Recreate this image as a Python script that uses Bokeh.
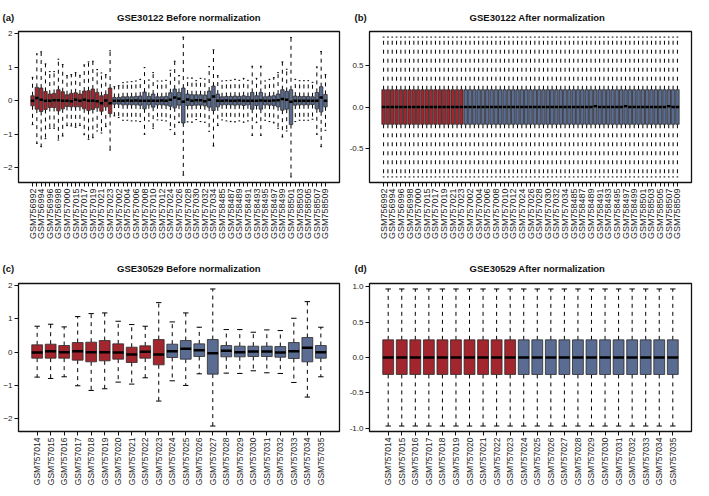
import numpy as np
from bokeh.plotting import figure
from bokeh.models import FixedTicker, Range1d, PrintfTickFormatter, ColumnDataSource
from bokeh.layouts import column, row
from bokeh.embed import file_html
from bokeh.resources import INLINE

RED = "#A3252E"
BLUE = "#5A6C92"
FONT = "Liberation Sans"
NB = "\u00a0"

# ---------------- GSE30122 (69 samples; first 19 = DN group) ----------------
a_samples = [
    "GSM756992", "GSM756993", "GSM756994", "GSM756995", "GSM756996", "GSM756997", "GSM756998",
    "GSM756999", "GSM757000", "GSM757014", "GSM757015", "GSM757016", "GSM757017", "GSM757018",
    "GSM757019", "GSM757020", "GSM757021", "GSM757022", "GSM757023", "GSM757001", "GSM757002",
    "GSM757003", "GSM757004", "GSM757005", "GSM757006", "GSM757007", "GSM757008", "GSM757009",
    "GSM757010", "GSM757011", "GSM757012", "GSM757013", "GSM757024", "GSM757025", "GSM757026",
    "GSM757027", "GSM757028", "GSM757029", "GSM757030", "GSM757031", "GSM757032", "GSM757033",
    "GSM757034", "GSM757035", "GSM758485", "GSM758486", "GSM758487", "GSM758488", "GSM758489",
    "GSM758490", "GSM758491", "GSM758492", "GSM758493", "GSM758494", "GSM758495", "GSM758496",
    "GSM758497", "GSM758498", "GSM758499", "GSM758500", "GSM758501", "GSM758502", "GSM758503",
    "GSM758504", "GSM758505", "GSM758506", "GSM758507", "GSM758508", "GSM758509",
]
a_n_case = 19

a_top = [0.70, 1.40, 1.46, 1.10, 0.87, 0.87, 1.24, 1.08, 0.75,
         0.78, 0.84, 0.76, 1.07, 1.16, 1.18, 0.93, 0.83, 0.78, 1.49,
         0.42, 0.45, 0.54, 0.56, 0.57, 0.59, 0.64, 0.99, 0.62, 0.84, 0.59, 0.59, 0.61,
         0.91, 1.18, 0.75, 1.90, 0.68, 0.68, 0.60, 0.67, 0.65, 1.02, 1.52, 0.75,
         0.59, 0.60, 0.61, 0.64, 0.61, 0.67, 0.61, 1.03, 0.67, 1.03, 0.59, 0.64, 0.69,
         0.84, 1.16, 0.94, 1.89, 0.64, 0.60, 0.60, 0.60, 0.55, 1.01, 1.47, 0.78]
a_q3 = [0.15, 0.40, 0.38, 0.28, 0.20, 0.22, 0.33, 0.27, 0.18,
        0.22, 0.24, 0.20, 0.29, 0.30, 0.35, 0.25, 0.15, 0.19, 0.38,
        0.10, 0.10, 0.12, 0.12, 0.12, 0.13, 0.14, 0.26, 0.13, 0.20, 0.12, 0.12, 0.13,
        0.24, 0.35, 0.25, 0.38, 0.20, 0.18, 0.18, 0.18, 0.17, 0.29, 0.44, 0.20,
        0.12, 0.13, 0.13, 0.14, 0.13, 0.15, 0.13, 0.25, 0.15, 0.25, 0.12, 0.14, 0.15,
        0.20, 0.33, 0.28, 0.33, 0.14, 0.13, 0.13, 0.13, 0.12, 0.25, 0.42, 0.19]
a_med = [0.00, 0.08, 0.03, 0.00, 0.00, 0.02, 0.02, 0.00, 0.00,
         -0.01, 0.03, 0.00, 0.03, 0.00, 0.00, -0.01, -0.07, 0.01, -0.07,
         0.00, 0.00, 0.00, 0.01, 0.00, 0.01, 0.00, 0.00, 0.00, 0.00, 0.00, 0.01, 0.00,
         0.03, 0.10, 0.06, -0.03, 0.04, 0.00, 0.02, 0.02, -0.01, 0.03, 0.13, 0.00,
         0.00, 0.01, 0.00, 0.00, 0.01, 0.00, 0.00, 0.00, 0.00, 0.01, 0.00, 0.00, 0.01,
         0.02, 0.05, 0.03, -0.03, 0.00, 0.00, 0.00, 0.00, 0.00, 0.00, 0.10, 0.00]
a_q1 = [-0.15, -0.25, -0.32, -0.26, -0.20, -0.20, -0.30, -0.24, -0.17,
        -0.18, -0.18, -0.18, -0.24, -0.29, -0.26, -0.21, -0.31, -0.18, -0.38,
        -0.10, -0.10, -0.12, -0.12, -0.12, -0.12, -0.13, -0.24, -0.12, -0.19, -0.12, -0.12, -0.13,
        -0.16, -0.21, -0.13, -0.66, -0.14, -0.14, -0.13, -0.13, -0.15, -0.19, -0.29, -0.18,
        -0.12, -0.12, -0.12, -0.13, -0.12, -0.14, -0.12, -0.25, -0.14, -0.25, -0.12, -0.13, -0.14,
        -0.18, -0.28, -0.25, -0.71, -0.13, -0.12, -0.12, -0.12, -0.11, -0.24, -0.33, -0.18]
a_bot = [-0.71, -1.27, -1.37, -1.13, -0.82, -0.82, -1.17, -1.05, -0.74,
         -0.75, -0.79, -0.74, -1.01, -1.15, -1.10, -0.90, -0.96, -0.77, -1.47,
         -0.45, -0.50, -0.58, -0.58, -0.60, -0.60, -0.62, -1.00, -0.60, -0.82, -0.57, -0.58, -0.60,
         -0.86, -1.00, -0.65, -2.22, -0.63, -0.64, -0.56, -0.62, -0.64, -0.91, -1.35, -0.74,
         -0.57, -0.60, -0.62, -0.63, -0.60, -0.64, -0.60, -1.03, -0.65, -1.03, -0.58, -0.62, -0.66,
         -0.82, -1.08, -0.90, -2.27, -0.62, -0.58, -0.58, -0.58, -0.55, -1.00, -1.37, -0.88]

b_top = [0.85, 0.85, 0.85, 0.85, 0.85, 0.85, 0.85, 0.85, 0.85, 0.85, 0.85, 0.85, 0.85, 0.85,
         0.85, 0.85, 0.85, 0.85, 0.85, 0.85, 0.85, 0.85, 0.85, 0.85, 0.85, 0.85, 0.85, 0.85,
         0.85, 0.85, 0.85, 0.85, 0.85, 0.85, 0.85, 0.85, 0.85, 0.85, 0.85, 0.85, 0.85, 0.85,
         0.85, 0.85, 0.85, 0.85, 0.85, 0.85, 0.85, 0.85, 0.85, 0.85, 0.85, 0.85, 0.85, 0.85,
         0.85, 0.85, 0.85, 0.85, 0.85, 0.85, 0.85, 0.85, 0.85, 0.85, 0.85, 0.85, 0.85]
b_q3 = [0.21, 0.21, 0.21, 0.21, 0.21, 0.21, 0.21, 0.21, 0.21, 0.21, 0.21, 0.21, 0.21, 0.21,
        0.21, 0.21, 0.21, 0.21, 0.21, 0.21, 0.21, 0.21, 0.21, 0.21, 0.21, 0.21, 0.21, 0.21,
        0.21, 0.21, 0.21, 0.21, 0.21, 0.21, 0.21, 0.21, 0.21, 0.21, 0.21, 0.21, 0.21, 0.21,
        0.21, 0.21, 0.21, 0.21, 0.21, 0.21, 0.21, 0.21, 0.21, 0.21, 0.21, 0.21, 0.21, 0.21,
        0.21, 0.21, 0.21, 0.21, 0.21, 0.21, 0.21, 0.21, 0.21, 0.21, 0.21, 0.21, 0.21]
b_med = [0.00, 0.00, 0.00, 0.00, 0.00, 0.00, 0.00, 0.00, 0.00, 0.00, 0.00, 0.00, 0.00, 0.00,
         0.00, 0.00, 0.00, 0.00, 0.00, 0.00, 0.00, 0.00, 0.00, 0.00, 0.00, 0.00, 0.00, 0.00,
         0.00, 0.00, 0.00, 0.00, 0.00, 0.00, 0.00, 0.00, 0.00, 0.00, 0.00, 0.00, 0.00, 0.00,
         0.00, 0.00, 0.00, 0.00, 0.00, 0.00, 0.00, 0.01, 0.00, 0.00, 0.00, 0.00, 0.00, 0.00,
         0.01, 0.00, 0.00, 0.00, 0.00, 0.00, 0.00, 0.00, 0.00, 0.00, 0.01, 0.00, 0.00]
b_q1 = [-0.21, -0.21, -0.21, -0.21, -0.21, -0.21, -0.21, -0.21, -0.21, -0.21, -0.21, -0.21, -0.21, -0.21,
        -0.21, -0.21, -0.21, -0.21, -0.21, -0.21, -0.21, -0.21, -0.21, -0.21, -0.21, -0.21, -0.21, -0.21,
        -0.21, -0.21, -0.21, -0.21, -0.21, -0.21, -0.21, -0.21, -0.21, -0.21, -0.21, -0.21, -0.21, -0.21,
        -0.21, -0.21, -0.21, -0.21, -0.21, -0.21, -0.21, -0.21, -0.21, -0.21, -0.21, -0.21, -0.21, -0.21,
        -0.21, -0.21, -0.21, -0.21, -0.21, -0.21, -0.21, -0.21, -0.21, -0.21, -0.21, -0.21, -0.21]
b_bot = [-0.85, -0.85, -0.85, -0.85, -0.85, -0.85, -0.85, -0.85, -0.85, -0.85, -0.85, -0.85, -0.85, -0.85,
         -0.85, -0.85, -0.85, -0.85, -0.85, -0.85, -0.85, -0.85, -0.85, -0.85, -0.85, -0.85, -0.85, -0.85,
         -0.85, -0.85, -0.85, -0.85, -0.85, -0.85, -0.85, -0.85, -0.85, -0.85, -0.85, -0.85, -0.85, -0.85,
         -0.85, -0.85, -0.85, -0.85, -0.85, -0.85, -0.85, -0.85, -0.85, -0.85, -0.85, -0.85, -0.85, -0.85,
         -0.85, -0.85, -0.85, -0.85, -0.85, -0.85, -0.85, -0.85, -0.85, -0.85, -0.85, -0.85, -0.85]

# ---------------- GSE30529 (22 samples; first 10 = DN group) ----------------
c_samples = ["GSM757014", "GSM757015", "GSM757016", "GSM757017", "GSM757018", "GSM757019",
             "GSM757020", "GSM757021", "GSM757022", "GSM757023", "GSM757024", "GSM757025",
             "GSM757026", "GSM757027", "GSM757028", "GSM757029", "GSM757030", "GSM757031",
             "GSM757032", "GSM757033", "GSM757034", "GSM757035"]
c_n_case = 10

c_top = [0.78, 0.84, 0.76, 1.07, 1.16, 1.18, 0.93, 0.83, 0.78, 1.49, 0.91,
         1.18, 0.75, 1.90, 0.68, 0.68, 0.60, 0.67, 0.65, 1.02, 1.52, 0.75]
c_q3 = [0.22, 0.24, 0.20, 0.29, 0.30, 0.35, 0.25, 0.15, 0.19, 0.38, 0.24,
        0.35, 0.25, 0.38, 0.20, 0.18, 0.18, 0.18, 0.17, 0.29, 0.44, 0.20]
c_med = [-0.01, 0.03, 0.00, 0.03, 0.00, 0.00, -0.01, -0.07, 0.01, -0.07, 0.03,
         0.10, 0.06, -0.03, 0.04, 0.00, 0.02, 0.02, -0.01, 0.03, 0.13, 0.00]
c_q1 = [-0.18, -0.18, -0.18, -0.24, -0.29, -0.26, -0.21, -0.31, -0.18, -0.38, -0.16,
        -0.21, -0.13, -0.66, -0.14, -0.14, -0.13, -0.13, -0.15, -0.19, -0.29, -0.18]
c_bot = [-0.75, -0.79, -0.74, -1.01, -1.15, -1.10, -0.90, -0.96, -0.77, -1.47, -0.86,
         -1.00, -0.65, -2.22, -0.63, -0.64, -0.56, -0.62, -0.64, -0.91, -1.35, -0.74]

d_top = [0.97, 0.97, 0.97, 0.97, 0.97, 0.97, 0.97, 0.97, 0.97, 0.97, 0.97,
         0.97, 0.97, 0.97, 0.97, 0.97, 0.97, 0.97, 0.97, 0.97, 0.97, 0.97]
d_q3 = [0.25, 0.25, 0.25, 0.25, 0.25, 0.25, 0.25, 0.25, 0.25, 0.25, 0.25,
        0.25, 0.25, 0.25, 0.25, 0.25, 0.25, 0.25, 0.25, 0.25, 0.25, 0.25]
d_med = [0.00, 0.00, 0.00, 0.00, 0.00, 0.00, 0.00, 0.00, 0.00, 0.00, 0.00,
         0.00, 0.00, 0.00, 0.00, 0.00, 0.00, 0.00, 0.00, 0.00, 0.00, 0.00]
d_q1 = [-0.24, -0.24, -0.24, -0.24, -0.24, -0.24, -0.24, -0.24, -0.24, -0.24, -0.24,
        -0.24, -0.24, -0.24, -0.24, -0.24, -0.24, -0.24, -0.24, -0.24, -0.24, -0.24]
d_bot = [-0.97, -0.97, -0.97, -0.97, -0.97, -0.97, -0.97, -0.97, -0.97, -0.97, -0.97,
         -0.97, -0.97, -0.97, -0.97, -0.97, -0.97, -0.97, -0.97, -0.97, -0.97, -0.97]

a_yticks = [-2, -1, 0, 1, 2]
b_yticks = [-0.5, 0.0, 0.5]
c_yticks = [-2, -1, 0, 1, 2]
d_yticks = [-1.0, -0.5, 0.0, 0.5, 1.0]


def box_panel(names, n_case, top, q3, med, q1, bot, yticks, yfmt, title, tag,
              width, height, bl, br, bt, bb, every, xlab_size, dash, standoff):
    n = len(names)
    xs = list(range(1, n + 1))
    lo, hi = min(bot), max(top)
    pad = 0.04 * (hi - lo)
    xpad = 0.04 * n
    xlo, xhi = 0.5 - xpad, n + 0.5 + xpad
    ylo, yhi = lo - pad, hi + pad
    p = figure(width=width, height=height, output_backend="svg", toolbar_location=None,
               x_range=Range1d(xlo, xhi), y_range=Range1d(ylo, yhi),
               min_border_left=bl, min_border_right=br, min_border_top=bt, min_border_bottom=bb)
    p.xgrid.visible = False
    p.ygrid.visible = False
    p.outline_line_color = "#111111"
    p.outline_line_width = 1.3
    p.background_fill_color = "white"
    p.border_fill_color = "white"

    # panel tag and centred title share one title line (tag at the far left)
    p.title.text = tag[0] + NB * tag[2] + title
    p.title.align = "left"
    p.title.offset = tag[1]
    p.title.text_font = FONT
    p.title.text_font_style = "bold"
    p.title.text_font_size = "9.5px"
    p.title.text_color = "#111111"
    p.title.standoff = standoff

    colors = [RED if i < n_case else BLUE for i in range(n)]
    src = ColumnDataSource(dict(
        x=xs, top=top, q3=q3, med=med, q1=q1, bot=bot, color=colors,
        cl=[v - 0.2 for v in xs], cr=[v + 0.2 for v in xs],
        bl=[v - 0.4 for v in xs], br=[v + 0.4 for v in xs]))
    p.segment(x0="x", y0="q3", x1="x", y1="top", source=src, line_color="black",
              line_width=1, line_dash=dash)
    p.segment(x0="x", y0="q1", x1="x", y1="bot", source=src, line_color="black",
              line_width=1, line_dash=dash)
    p.segment(x0="cl", y0="top", x1="cr", y1="top", source=src, line_color="black", line_width=1)
    p.segment(x0="cl", y0="bot", x1="cr", y1="bot", source=src, line_color="black", line_width=1)
    p.vbar(x="x", width=0.8, top="q3", bottom="q1", source=src, fill_color="color",
           line_color="#2a2a2a", line_width=0.8)
    p.segment(x0="bl", y0="med", x1="br", y1="med", source=src, line_color="black", line_width=2.5)

    p.xaxis.ticker = FixedTicker(ticks=xs)
    p.xaxis.major_label_overrides = {i: (names[i - 1] if (i - 1) % every == 0 else "") for i in xs}
    p.xaxis.major_label_orientation = np.pi / 2
    p.xaxis.major_label_text_font = FONT
    p.xaxis.major_label_text_font_size = xlab_size
    p.xaxis.major_label_text_color = "#222222"
    p.xaxis.major_label_standoff = 2
    p.xaxis.major_tick_out = 4
    p.xaxis.major_tick_in = 0
    p.xaxis.minor_tick_line_color = None
    p.xaxis.axis_line_color = None
    p.xaxis.major_tick_line_color = "#111111"

    p.yaxis.ticker = FixedTicker(ticks=yticks)
    if yfmt:
        p.yaxis.formatter = PrintfTickFormatter(format=yfmt)
    p.yaxis.major_label_text_font = FONT
    p.yaxis.major_label_text_font_size = "8px"
    p.yaxis.major_label_text_color = "#222222"
    p.yaxis.major_label_standoff = 2
    p.yaxis.major_tick_out = 4
    p.yaxis.major_tick_in = 0
    p.yaxis.minor_tick_line_color = None
    p.yaxis.axis_line_color = None
    p.yaxis.major_tick_line_color = "#111111"
    return p


pa = box_panel(a_samples, a_n_case, a_top, a_q3, a_med, a_q1, a_bot, a_yticks, None,
               "GSE30122 Before normalization", ("(a)", -16, 39), 341, 244, 17, 2, 30, 62, 2,
               "9px", "4 4", 18)
pb = box_panel(a_samples, a_n_case, b_top, b_q3, b_med, b_q1, b_bot, b_yticks, "%.1f",
               "GSE30122 After normalization", ("(b)", -15, 39), 352, 244, 28, 2, 30, 62, 2,
               "9px", "4 5", 18)
pc = box_panel(c_samples, c_n_case, c_top, c_q3, c_med, c_q1, c_bot, c_yticks, None,
               "GSE30529 Before normalization", ("(c)", -16, 39), 341, 244, 17, 2, 39, 54, 1,
               "8.5px", "4 4", 19)
pd = box_panel(c_samples, c_n_case, d_top, d_q3, d_med, d_q1, d_bot, d_yticks, "%.1f",
               "GSE30529 After normalization", ("(d)", -15, 39), 352, 244, 28, 2, 39, 54, 1,
               "8.5px", "4 4", 19)

layout = column(row(pa, pb), row(pc, pd))
open("out.html", "w").write(file_html(layout, INLINE))
